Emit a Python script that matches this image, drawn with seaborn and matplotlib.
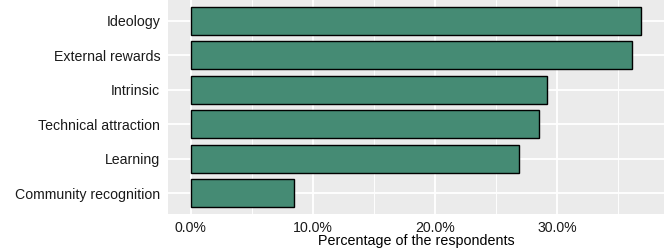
import matplotlib
matplotlib.use("Agg")
import matplotlib.pyplot as plt
from matplotlib.ticker import PercentFormatter, MultipleLocator
import pandas as pd
import seaborn as sns

# motivation categories, top to bottom
categories = ["Ideology", "External rewards", "Intrinsic",
              "Technical attraction", "Learning", "Community recognition"]
# share of respondents (%)
percent = [36.9, 36.1, 29.2, 28.5, 26.9, 8.5]

df = pd.DataFrame({"category": categories, "percent": percent})

sns.set_style("darkgrid", {"axes.facecolor": "#EBEBEB", "grid.color": "white"})
plt.rcParams["font.family"] = ["Liberation Sans", "DejaVu Sans"]

fig = plt.figure(figsize=(6.64, 2.49), dpi=100)
ax = fig.add_axes([168 / 664, 35 / 249, 1 - 168 / 664, 1 - 35 / 249])

sns.barplot(data=df, x="percent", y="category", orient="h", width=0.8,
            color="#458B74", saturation=1, edgecolor="black", linewidth=1.0,
            ax=ax, zorder=3)

ax.set_xlim(-1.85, 38.75)
ax.set_ylim(len(categories) - 0.4, -0.6)
ax.xaxis.set_major_locator(MultipleLocator(10))
ax.xaxis.set_minor_locator(MultipleLocator(5))
ax.xaxis.set_major_formatter(PercentFormatter(decimals=1))
ax.grid(which="major", color="white", linewidth=1.3)
ax.grid(which="minor", axis="x", color="white", linewidth=0.65)
ax.set_axisbelow(True)
for s in ax.spines.values():
    s.set_visible(False)

ax.tick_params(axis="both", which="major", length=3.5, width=0.9, color="#333333",
               labelsize=10.2, labelcolor="#1A1A1A", pad=2)
ax.tick_params(axis="x", which="major", pad=1.5)
ax.tick_params(axis="x", which="minor", length=0)
ax.set_xlabel("Percentage of the respondents", fontsize=10.3, color="black", labelpad=-0.5)
ax.set_ylabel("")

fig.savefig("out.png", dpi=100)
